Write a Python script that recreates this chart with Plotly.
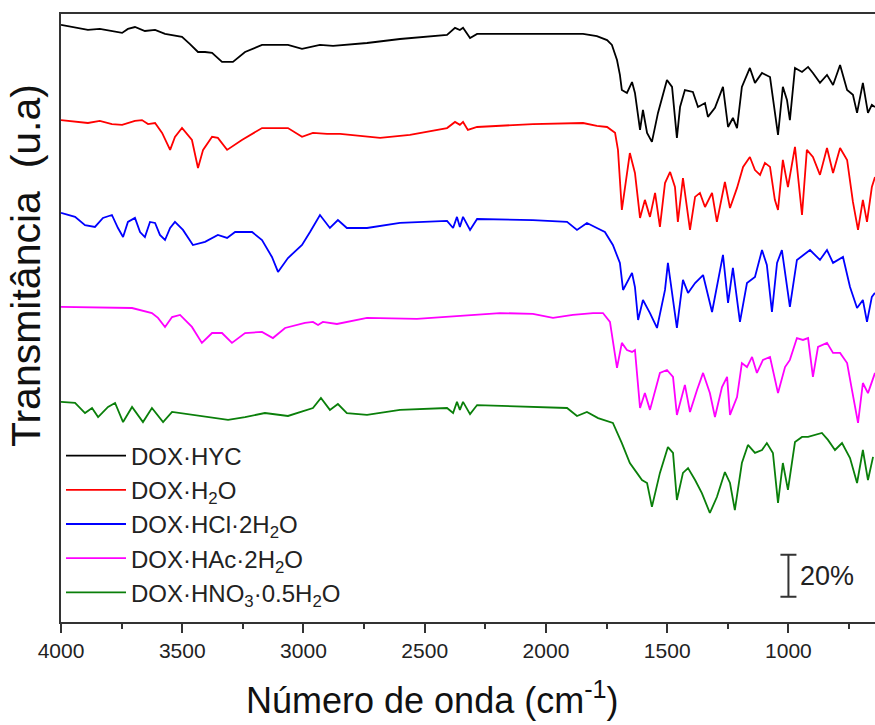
import plotly.graph_objects as go

# ---- data (wavenumber cm^-1, offset transmittance %) ----
names = ["DOX·HYC", "DOX·H<sub>2</sub>O", "DOX·HCl·2H<sub>2</sub>O",
         "DOX·HAc·2H<sub>2</sub>O", "DOX·HNO<sub>3</sub>·0.5H<sub>2</sub>O"]
colors = ["#000000", "#ff0000", "#0000ff", "#ff00ff", "#0a7f0a"]

hyc_x = [4000, 3942, 3889, 3840, 3790, 3748, 3724, 3695, 3654, 3612, 3571, 3542, 3501, 3468, 3435, 3406,
         3377, 3336, 3291, 3241, 3171, 3064, 3006, 2932, 2878, 2738, 2602, 2408, 2375, 2355, 2342, 2313,
         2284, 2054, 1847, 1790, 1748, 1728, 1707, 1695, 1687, 1666, 1645, 1633, 1612, 1600, 1583, 1563,
         1538, 1501, 1480, 1460, 1447, 1427, 1394, 1373, 1344, 1332, 1303, 1270, 1249, 1229, 1212, 1192,
         1159, 1138, 1109, 1076, 1064, 1043, 1023, 1006, 994, 973, 944, 919, 899, 870, 841, 816, 787, 758,
         734, 717, 693, 672, 656, 643]
hyc_y = [284.3, 282.9, 281.9, 282.4, 281.4, 280.5, 282.4, 283.3, 281.4, 281.9, 280.0, 279.5, 278.6, 275.2,
         271.4, 271.4, 271.0, 266.7, 266.7, 271.4, 274.8, 274.8, 272.9, 274.8, 274.3, 275.7, 277.6, 279.5,
         282.9, 281.9, 282.9, 278.1, 280.0, 280.0, 280.0, 279.0, 277.1, 274.8, 267.6, 260.5, 253.3, 251.9,
         257.1, 251.9, 234.3, 243.8, 232.9, 228.6, 242.4, 258.1, 254.8, 230.5, 245.2, 253.3, 252.4, 245.2,
         247.1, 240.5, 244.8, 254.8, 235.7, 240.0, 235.2, 254.8, 263.8, 256.7, 261.4, 259.5, 248.6, 231.9,
         254.8, 248.6, 239.0, 263.8, 261.9, 264.3, 261.4, 256.7, 260.5, 255.7, 265.2, 253.3, 251.0, 242.4,
         256.7, 242.4, 246.2, 245.2]

h2o_x = [4000, 3942, 3889, 3840, 3790, 3748, 3695, 3666, 3641, 3612, 3583, 3550, 3530, 3501, 3460, 3435,
         3414, 3377, 3353, 3315, 3254, 3171, 3064, 3006, 2961, 2903, 2849, 2684, 2561, 2408, 2375, 2355,
         2342, 2322, 2284, 2054, 1847, 1790, 1748, 1715, 1703, 1687, 1654, 1633, 1612, 1592, 1571, 1550,
         1530, 1509, 1488, 1468, 1456, 1435, 1406, 1385, 1365, 1344, 1315, 1295, 1262, 1241, 1212, 1187,
         1159, 1138, 1117, 1097, 1076, 1056, 1043, 1023, 1002, 973, 944, 924, 899, 870, 841, 816, 787, 758,
         734, 713, 693, 676, 656, 643]
h2o_y = [239.0, 238.1, 237.6, 238.6, 237.1, 236.7, 238.6, 239.0, 237.1, 237.6, 232.9, 224.8, 231.0, 235.2,
         229.5, 216.2, 224.8, 231.0, 230.5, 224.8, 229.5, 235.2, 235.2, 231.0, 232.9, 232.4, 232.4, 230.5,
         231.9, 235.2, 238.1, 236.7, 238.1, 234.3, 235.7, 237.1, 237.6, 236.2, 235.7, 232.9, 224.8, 196.2,
         223.3, 213.8, 192.4, 201.0, 192.9, 204.3, 188.1, 209.0, 214.3, 207.1, 190.5, 211.4, 186.7, 202.4,
         204.3, 197.6, 204.3, 190.5, 209.5, 197.1, 206.7, 216.7, 221.4, 215.2, 212.9, 218.6, 216.7, 201.0,
         196.2, 220.0, 207.1, 226.2, 193.8, 224.8, 221.4, 212.9, 225.7, 213.8, 225.7, 220.0, 200.0, 186.7,
         201.0, 190.5, 207.1, 211.9]

hcl_x = [4000, 3942, 3901, 3860, 3827, 3790, 3765, 3744, 3724, 3695, 3674, 3654, 3633, 3612, 3592, 3571,
         3550, 3530, 3497, 3456, 3406, 3353, 3315, 3282, 3212, 3171, 3130, 3105, 3064, 3006, 2973, 2932,
         2891, 2858, 2821, 2738, 2602, 2408, 2383, 2367, 2355, 2342, 2313, 2284, 2054, 1913, 1872, 1831,
         1790, 1757, 1724, 1695, 1682, 1645, 1633, 1620, 1600, 1571, 1542, 1509, 1497, 1460, 1435, 1414,
         1385, 1352, 1315, 1270, 1249, 1229, 1200, 1171, 1138, 1109, 1089, 1068, 1047, 1027, 994, 965,
         911, 870, 841, 816, 775, 746, 717, 693, 676, 656, 643]
hcl_y = [194.8, 192.9, 189.0, 188.1, 192.4, 193.8, 187.6, 183.3, 190.5, 192.4, 185.7, 183.3, 190.5, 190.0,
         184.3, 181.9, 187.6, 190.5, 186.7, 179.5, 181.0, 184.3, 182.9, 185.7, 185.7, 181.9, 173.8, 166.7,
         173.3, 179.5, 185.7, 193.8, 187.6, 191.4, 187.6, 187.6, 190.0, 191.0, 187.6, 192.9, 188.1, 192.9,
         186.7, 191.9, 191.4, 190.5, 186.7, 190.0, 187.6, 185.7, 179.5, 171.0, 158.1, 166.2, 159.5, 143.8,
         153.3, 147.1, 140.0, 158.1, 171.0, 140.0, 162.9, 156.7, 161.4, 165.2, 147.6, 174.8, 151.9, 168.6,
         142.9, 161.4, 164.3, 177.1, 170.0, 147.6, 171.0, 177.1, 150.0, 172.4, 177.1, 172.4, 177.1, 171.0,
         173.8, 159.5, 149.5, 153.3, 142.9, 154.8, 156.7]

hac_x = [4000, 3707, 3625, 3600, 3571, 3542, 3509, 3460, 3419, 3377, 3336, 3295, 3241, 3171, 3126, 3076,
         2994, 2961, 2940, 2920, 2862, 2738, 2532, 2326, 2190, 2054, 1971, 1889, 1806, 1765, 1736, 1707,
         1687, 1666, 1645, 1633, 1612, 1592, 1571, 1530, 1501, 1476, 1460, 1427, 1406, 1377, 1352, 1324,
         1303, 1274, 1253, 1241, 1212, 1192, 1171, 1150, 1130, 1105, 1076, 1043, 1014, 994, 965, 940, 919,
         899, 878, 841, 816, 787, 758, 738, 713, 693, 672, 643]
hac_y = [150.0, 149.5, 147.1, 144.8, 140.5, 145.2, 146.2, 140.5, 132.9, 137.6, 137.6, 132.9, 137.6, 138.1,
         135.2, 140.0, 142.4, 142.9, 141.4, 142.9, 141.9, 144.8, 144.3, 146.2, 147.1, 146.7, 144.8, 146.2,
         147.1, 147.1, 142.9, 121.0, 132.9, 129.5, 128.6, 129.5, 101.9, 109.0, 101.0, 118.6, 120.0, 116.7,
         98.6, 112.9, 100.0, 110.5, 118.6, 109.0, 97.6, 111.9, 116.7, 98.6, 107.1, 123.3, 121.4, 126.2,
         118.6, 124.8, 126.2, 109.0, 121.4, 124.8, 135.2, 134.3, 135.2, 116.7, 131.0, 132.9, 128.1, 128.1,
         123.3, 110.5, 94.8, 113.8, 109.0, 118.6]

hno3_x = [4000, 3942, 3901, 3872, 3847, 3806, 3777, 3744, 3707, 3662, 3625, 3579, 3542, 3476, 3406, 3311,
          3241, 3159, 3064, 2981, 2961, 2928, 2891, 2858, 2821, 2738, 2602, 2408, 2383, 2367, 2355, 2342,
          2313, 2284, 2054, 1913, 1872, 1831, 1785, 1724, 1687, 1654, 1625, 1604, 1583, 1563, 1530, 1497,
          1476, 1460, 1435, 1414, 1385, 1357, 1324, 1295, 1262, 1241, 1221, 1192, 1167, 1138, 1109, 1089,
          1064, 1043, 1023, 1002, 973, 944, 919, 891, 862, 837, 808, 779, 746, 717, 693, 672, 651]
hno3_y = [104.8, 104.3, 99.5, 101.9, 97.6, 102.4, 104.3, 95.2, 102.4, 95.2, 101.9, 95.2, 100.0, 99.0, 97.6,
          96.2, 97.6, 99.5, 98.1, 101.0, 101.9, 106.7, 101.0, 103.8, 99.5, 98.6, 101.0, 101.9, 99.5, 104.8,
          101.0, 104.8, 99.0, 103.3, 102.4, 101.9, 98.1, 100.0, 97.1, 94.8, 85.2, 75.7, 71.0, 67.6, 66.2,
          54.8, 71.0, 83.3, 80.5, 58.1, 71.0, 73.3, 67.6, 61.4, 51.9, 59.5, 71.4, 66.2, 53.3, 75.7, 84.3,
          80.5, 81.9, 85.2, 80.5, 56.7, 75.7, 62.9, 85.7, 88.1, 88.1, 89.0, 90.0, 86.7, 81.9, 85.2, 78.1,
          66.2, 81.9, 67.6, 78.6]

series_x = [hyc_x, h2o_x, hcl_x, hac_x, hno3_x]
series_y = [hyc_y, h2o_y, hcl_y, hac_y, hno3_y]

x_ticks = [4000, 3500, 3000, 2500, 2000, 1500, 1000]
scale_bar_pct = 20
scale_bar_center = (1000, 22)

FONT = "Arial, Liberation Sans, sans-serif"

fig = go.Figure()
for nm, c, xs, ys in zip(names, colors, series_x, series_y):
    fig.add_trace(go.Scatter(x=xs, y=ys, mode="lines", name=nm,
                             line=dict(color=c, width=1.8)))

# scale bar (20 %)
fig.add_trace(go.Scatter(
    x=[scale_bar_center[0]], y=[scale_bar_center[1]], mode="markers",
    marker=dict(size=1, opacity=0), showlegend=False, hoverinfo="skip",
    error_y=dict(type="constant", value=scale_bar_pct / 2, width=8,
                 thickness=2, color="#333333")))
fig.add_annotation(x=scale_bar_center[0], y=scale_bar_center[1], xref="x", yref="y",
                   text=f"{scale_bar_pct}%", showarrow=False, xanchor="left",
                   xshift=10, font=dict(family=FONT, size=27, color="#222222"))

fig.update_xaxes(range=[4000, 643], tickvals=x_ticks, ticks="outside", ticklen=9,
                 tickwidth=2, tickcolor="#333333", showline=True, linewidth=2,
                 linecolor="#333333", mirror=True, showgrid=False, zeroline=False,
                 tickfont=dict(family=FONT, size=21, color="#222222"),
                 minor=dict(dtick=250, tick0=4000, ticks="outside", ticklen=5,
                            tickwidth=2, tickcolor="#333333", showgrid=False))
fig.update_yaxes(range=[0, 289.5], showline=True, linewidth=2, linecolor="#333333",
                 showticklabels=False, ticks="", showgrid=False, zeroline=False)

fig.add_annotation(x=0.457, y=-0.125, xref="paper", yref="paper",
                   text="Número de onda (cm<sup>-1</sup>)", showarrow=False,
                   xanchor="center", yanchor="middle",
                   font=dict(family=FONT, size=36, color="#111111"))
fig.add_annotation(x=-0.043, y=0.587, xref="paper", yref="paper",
                   text="Transmitância  (u.a)", showarrow=False, textangle=-90,
                   xanchor="center", yanchor="middle",
                   font=dict(family=FONT, size=41, color="#111111"))

fig.update_layout(
    width=875, height=725, margin=dict(l=61, r=0, t=14, b=103),
    paper_bgcolor="white", plot_bgcolor="white",
    font=dict(family=FONT, color="#222222"),
    legend=dict(x=0.0, y=0.31, xanchor="left", yanchor="top",
                bgcolor="rgba(0,0,0,0)", font=dict(family=FONT, size=24, color="#222222"),
                itemwidth=60, tracegroupgap=0),
)
fig.write_html("out.html")
